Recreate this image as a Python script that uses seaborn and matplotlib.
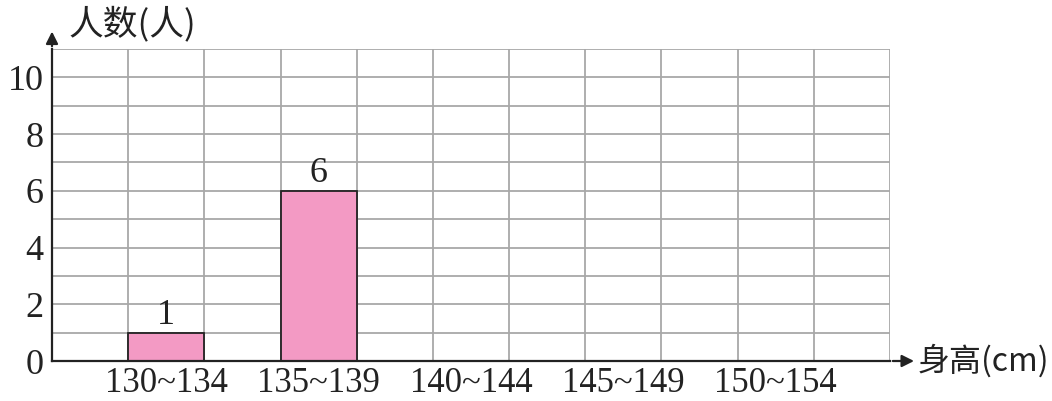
import matplotlib
matplotlib.use("Agg")
import matplotlib.pyplot as plt
import seaborn as sns
import pandas as pd
import numpy as np

# Datos
grupos = ["130~134", "135~139", "140~144", "145~149", "150~154"]
personas = [1, 6, 0, 0, 0]
etiquetas = {0: "1", 1: "6"}
y_ticks = [0, 2, 4, 6, 8, 10]

df = pd.DataFrame({"grupo": grupos, "personas": personas})

sns.set_style("white")
plt.rcParams["font.family"] = ["Liberation Serif", "Noto Sans CJK SC"]

fig = plt.figure(figsize=(10.52, 4.01), dpi=100)
ax = fig.add_axes([52 / 1052, 40 / 401, 838 / 1052, 312 / 401])

sns.barplot(x="grupo", y="personas", data=df, order=grupos, color="#F39AC4",
            width=0.5, edgecolor="#222222", linewidth=1.3, saturation=1,
            ax=ax, zorder=3)

ax.set_xlim(-0.75, 4.75)
ax.set_ylim(0, 11)

# Cuadricula
for x in np.arange(-0.25, 4.76, 0.5):
    ax.axvline(x, color="#A8A8A8", lw=1.3, zorder=1)
for y in range(1, 12):
    ax.axhline(y, color="#A8A8A8", lw=1.3, zorder=1)

for i, t in etiquetas.items():
    ax.text(i, personas[i] + 0.02, t, ha="center", va="bottom", fontsize=26,
            color="#222222")

ax.set_yticks(y_ticks)
ax.set_yticklabels([str(v) for v in y_ticks], fontsize=26, color="#222222")
ax.set_xticks(range(len(grupos)))
ax.set_xticklabels(grupos, fontsize=25, color="#222222")
ax.tick_params(axis="y", length=0, pad=6)
ax.tick_params(axis="x", length=0, pad=4)
ax.set_xlabel("")
ax.set_ylabel("")

for s in ["top", "right"]:
    ax.spines[s].set_visible(False)
for s in ["left", "bottom"]:
    ax.spines[s].set_color("#222222")
    ax.spines[s].set_linewidth(1.6)
    ax.spines[s].set_zorder(4)

# Flechas de los ejes
ax.annotate("", xy=(0, 1.065), xytext=(0, 1.0), xycoords="axes fraction",
            arrowprops=dict(arrowstyle="-|>", color="#222222", lw=1.6,
                            mutation_scale=18))
ax.annotate("", xy=(1.032, 0), xytext=(1.0, 0), xycoords="axes fraction",
            arrowprops=dict(arrowstyle="-|>", color="#222222", lw=1.6,
                            mutation_scale=18))

fig.text(68 / 1052, 1 - 24 / 401, "人数(人)", fontsize=25, va="center",
         ha="left", color="#222222",
         family=["Noto Sans CJK SC", "DejaVu Sans"])
fig.text(918 / 1052, 1 - 361 / 401, "身高(cm)", fontsize=23, va="center",
         ha="left", color="#222222",
         family=["Noto Sans CJK SC", "DejaVu Sans"])

fig.savefig("out.png", dpi=100)
